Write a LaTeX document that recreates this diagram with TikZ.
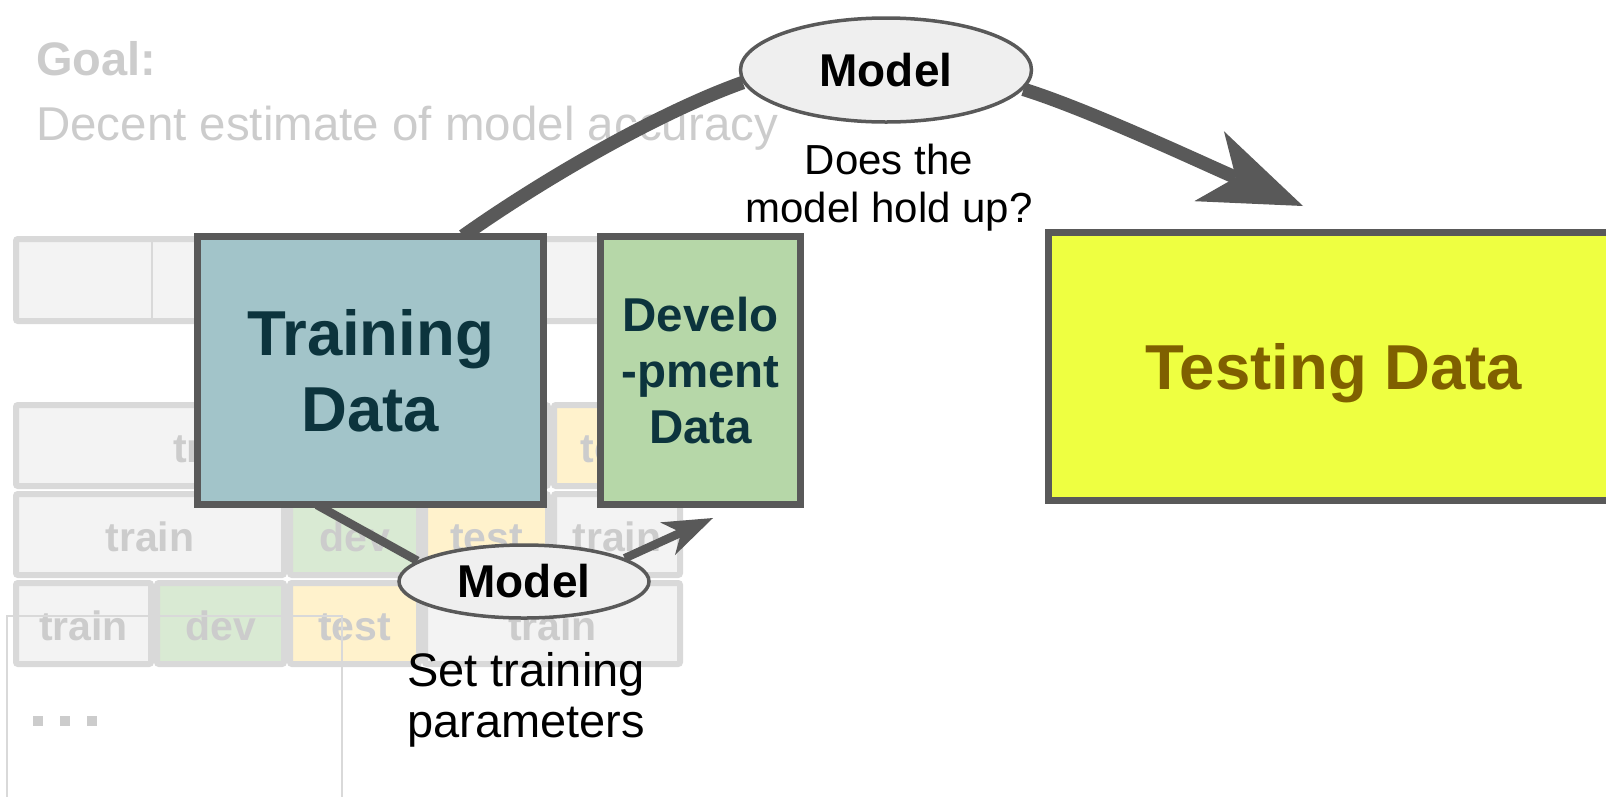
\documentclass[tikz,border=0pt]{standalone}
\usepackage{fontspec}
\setmainfont{Liberation Sans}
\usetikzlibrary{arrows.meta,shapes.geometric}
\pgfdeclarelayer{bg}
\pgfsetlayers{bg,main}
\definecolor{dk}{HTML}{595959}
\definecolor{trainfill}{HTML}{A2C4C9}
\definecolor{devfill}{HTML}{B6D7A8}
\definecolor{testfill}{HTML}{EEFF41}
\definecolor{txtteal}{HTML}{0C343D}
\definecolor{txtbrown}{HTML}{7F6000}
\definecolor{ellfill}{HTML}{EFEFEF}
\definecolor{fade}{HTML}{CCCCCC}
\definecolor{cellb}{HTML}{D9D9D9}
\definecolor{cellg}{HTML}{F3F3F3}
\definecolor{celld}{HTML}{D9EAD3}
\definecolor{cellt}{HTML}{FFF2CC}
\begin{document}
\begin{tikzpicture}[x=1pt,y=-1pt,
  databox/.style={draw=dk, line width=7pt, rectangle, inner sep=0pt, minimum height=268pt},
  ell/.style={ellipse, draw=dk, line width=3.5pt, fill=ellfill, inner sep=0pt, font=\bfseries\fontsize{46}{55}\selectfont},
  conn/.style={draw=dk, line width=13.5pt},
  connb/.style={draw=dk, line width=8.5pt},
  fadecell/.style={draw=cellb, line width=6pt, rounded corners=2pt},
  fadetext/.style={text=fade, font=\bfseries\fontsize{41}{49}\selectfont, anchor=base, inner sep=0pt},
  hair/.style={draw=cellb, line width=2pt}
]
\useasboundingbox (0,0) rectangle (1606,796);

% main nodes
\node[databox, fill=trainfill, text=txtteal, minimum width=346pt, align=center,
      font=\bfseries\fontsize{63.5}{76}\selectfont] (train) at (370.5,370.5) {Training\\Data};
\node[databox, fill=devfill, text=txtteal, minimum width=200pt, align=center,
      font=\bfseries\fontsize{47.5}{56}\selectfont] (dev) at (700.5,370.5) {Develo\\-pment\\Data};
\node[databox, fill=testfill, text=txtbrown, minimum width=571pt, text depth=0pt,
      font=\bfseries\fontsize{63.5}{76}\selectfont] (test) at (1334,366) {Testing Data};
\node[ell, minimum width=291pt, minimum height=104pt] (m1) at (886,70) {Model};
\node[ell, minimum width=250pt, minimum height=73pt] (m2) at (524,581.5) {Model};

\node[align=center, inner sep=0pt, font=\fontsize{42}{48}\selectfont] (q) at (889,188) {Does the\\model hold up?};
\node[align=center, inner sep=0pt, font=\fontsize{47}{51}\selectfont] (p) at (526,700) {Set training\\parameters};

\begin{pgfonlayer}{bg}
  \node[anchor=base west, inner sep=0pt, text=fade, font=\bfseries\fontsize{47}{56}\selectfont] (goal) at (36,75) {Goal:};
  \node[anchor=base west, inner sep=0pt, text=fade, font=\fontsize{47.5}{57}\selectfont] (acc) at (36,140) {Decent estimate of model accuracy};

  % faded table
  \draw[fadecell, fill=cellg] (16,239) rectangle (680,321);
  \draw[hair] (152,239) -- (152,321);
  \foreach \xa/\xb/\ya/\fc/\tx [count=\i] in {
      13/422/402/cellg/train, 422/551/402/celld/dev, 551/683/402/cellt/test,
      13/287/491/cellg/train, 287/422/491/celld/dev, 422/551/491/cellt/test, 551/683/491/cellg/train,
      13/154/580/cellg/train, 154/287/580/celld/dev, 287/422/580/cellt/test, 422/683/580/cellg/train}{
    \draw[fadecell, fill=\fc] ({\xa+3},{\ya+3}) rectangle ({\xb-3},{\ya+84});
    \node[fadetext] (ct\i) at ({(\xa+\xb)/2},{\ya+60}) {\tx};
  }
  \draw[hair] (7,800) -- (7,616) -- (342,616) -- (342,800);
  \foreach \dx in {33,60,87}{
    \fill[fade] (\dx,716) rectangle ({\dx+10},726);
  }

  % connectors
  \coordinate (ts) at (463,236);
  \coordinate (tb) at (317,505);
  \coordinate (tip1) at (1303,206);
  \coordinate (tip2) at (713,518);
  \draw[conn] (ts) .. controls (545,178) and (660,112) .. (m1.185);
  \draw[conn, -{Stealth[length=102pt,width=76pt,inset=29pt,line width=0pt]}]
      (m1.352) .. controls (1090,110) and (1211,167) .. (tip1);
  \draw[connb] (tb) -- (m2.169);
  \draw[connb, -{Stealth[length=50pt,width=36pt,inset=15pt,line width=0pt]}] (m2.13) -- (tip2);
\end{pgfonlayer}
\end{tikzpicture}
\end{document}
